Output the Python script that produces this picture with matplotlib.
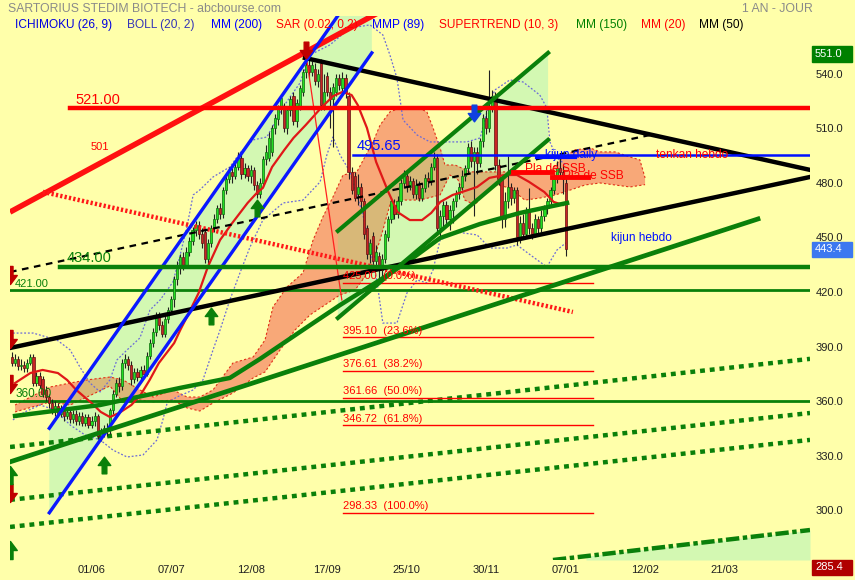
import numpy as np
import matplotlib
matplotlib.use('Agg')
import matplotlib.pyplot as plt
from matplotlib.path import Path
from matplotlib.transforms import blended_transform_factory
from matplotlib.patches import Rectangle

plt.rcParams['font.family'] = ['Liberation Sans', 'DejaVu Sans']

# ---------------- data ----------------
opens = [384,381,383,379,380,378,381,384,370,374,372,366,362,359,355,357,353,356,352,354,
         350,353,349,352,348,351,347,349,352,341,343,345,344,355,364,370,368,381,383,380,
         372,376,373,377,375,385,392,398,407,402,397,405,410,416,427,434,439,435,442,448,
         454,457,452,453,438,447,455,460,466,463,476,482,486,484,489,494,485,488,484,487,
         479,474,480,493,494,497,510,515,521,522,510,520,528,514,522,530,541,545,541,543,
         536,546,523,539,530,526,530,538,532,538,528,486,484,474,478,470,455,441,451,437,
         440,432,438,450,460,468,463,470,480,484,478,481,474,479,472,477,483,481,489,494,
         455,462,468,460,465,470,474,478,484,488,500,492,497,491,503,516,510,522,528,490,
         482,460,470,478,472,476,450,458,452,464,455,452,460,455,462,466,470,476,482,488,
         486,480]
closes = [381,383,379,380,378,381,384,370,374,369,364,362,359,355,357,353,356,352,354,350,
          353,349,352,348,351,347,349,352,341,343,345,344,355,364,370,368,381,383,380,372,
          376,373,377,375,385,392,398,407,402,397,405,410,416,427,434,439,435,442,448,454,
          457,452,447,438,447,455,460,466,463,476,482,486,484,489,494,485,488,484,487,479,
          474,480,493,497,505,510,516,521,527,510,520,526,514,524,532,541,545,541,545,536,
          540,523,530,530,526,533,538,534,538,530,486,476,472,478,470,452,441,447,437,442,
          432,438,452,460,470,463,470,480,484,478,481,474,479,472,477,483,481,489,494,455,
          462,468,460,465,470,474,478,484,488,500,492,497,491,503,516,510,522,528,490,482,
          460,470,478,472,476,450,458,452,464,455,452,460,455,462,466,470,476,482,488,486,
          482,443.4]
highs = [387,386,385,383,382,383,386,386,376,376,374,368,364,361,360,359,358,357,356,356,
         355,355,354,354,353,353,352,354,353,345,347,348,356,366,372,373,383,386,385,382,
         378,378,379,380,387,394,400,409,409,404,407,412,418,429,437,441,442,445,450,456,
         459,459,455,455,449,457,463,468,469,478,484,489,488,492,497,496,491,490,490,489,
         481,483,495,501,508,512,518,523,529,524,522,528,530,526,534,543,551,548,547,546,
         543,548,540,541,533,535,540,540,541,540,530,489,486,485,480,472,457,449,453,446,
         442,441,454,462,472,471,473,482,487,486,484,483,482,481,480,485,486,491,497,496,
         465,470,470,468,472,476,480,487,490,502,503,500,500,505,518,520,542,531,530,493,
         484,475,495,480,478,478,462,463,467,477,458,463,462,465,468,472,478,485,492,494,
         490,484]
lows = [379,379,377,377,376,376,380,368,368,367,362,360,356,353,352,351,351,349,350,348,
        348,347,347,346,346,345,345,346,339,338,340,341,342,353,362,365,366,378,377,369,
        370,371,371,373,374,383,390,396,399,395,395,403,408,412,424,430,432,433,440,446,
        451,449,444,436,435,445,453,458,460,461,474,480,480,482,487,482,483,481,480,476,
        472,472,478,490,492,495,507,512,518,508,507,517,512,511,520,528,538,538,539,534,
        533,520,520,528,510,500,528,531,530,527,482,474,470,468,465,449,438,436,434,432,
        425,426,436,448,458,460,461,468,477,475,476,472,471,470,470,475,478,479,487,452,
        450,455,457,454,458,467,471,476,481,485,489,462,485,489,500,507,508,519,487,479,
        455,456,466,468,469,446,447,449,450,452,449,450,452,453,459,463,468,474,480,483,
        474,440]

# x tick positions (trading-day index) and labels
xtick_idx = [26, 52, 78, 103, 129, 155, 181, 207, 233]
xtick_labels = ['01/06', '07/07', '12/08', '17/09', '25/10', '30/11', '07/01', '12/02', '21/03']
ytick_vals = [300, 330, 360, 390, 420, 450, 480, 510, 540]

# moving average 20 (red)
mm20_idx = [1,6,10,15,18,21,26,29,32,35,39,42,45,48,53,55,57,61,64,68,72,77,80,82,85,89,92,96,
            101,105,108,111,113,116,119,123,126,130,134,137,140,144,147,152,156,161,165,169,174,177,180]
mm20_val = [369.9,375.4,377.1,375.4,371.6,366.1,358.9,354.0,351.2,353.4,357.8,363.3,371.6,380.9,
            391.9,399.1,405.7,419.5,433.8,448.6,458.0,469.0,474.5,477.3,488.8,498.2,504.8,511.9,
            521.3,527.9,530.1,528.4,522.9,510.3,491.6,475.0,464.0,459.6,459.6,463.5,469.6,473.4,
            475.0,477.8,482.8,484.4,484.4,480.6,475.0,469.6,467.9]

# moving average 150 (green)
mm150_idx = [1.0, 28.8, 54.9, 71.2, 81.0, 94.1, 107.2, 120.3, 130.1, 139.9, 152.9, 166.0, 181.4]
mm150_val = [351.8, 357.8, 367.2, 372.7, 383.1, 398.0, 412.8, 426.6, 437.6, 449.7, 457.4, 463.5, 469.0]

# Bollinger bands
boll_up_idx = [0.3,6.9,14.7,19.0,22.2,25.5,28.8,32.0,34.3,37.6,41.8,45.1,48.4,52.6,54.9,57.2,59.2,
               61.4,65.7,71.2,74.5,78.8,83.3,88.6,94.1,97.4,103.9,110.5,117.0,121.2,123.5,125.8,
               127.8,132.4,136.6,142.2,148.7,153.0,155.2,157.8,162.7,167.0,172.5,174.8,175.8,178.1,181.0]
boll_up_val = [397.4,397.4,393.6,388.1,378.7,369.9,365.0,371.6,382.6,388.1,394.7,410.1,415.6,425.5,
               440.0,456.0,473.4,476.2,483.3,488.8,496.5,503.7,505.3,521.8,535.0,550.5,556.0,565.3,
               567.0,561.5,550.5,537.8,514.7,506.4,502.6,502.6,502.6,504.8,519.1,531.2,536.7,535.6,
               528.4,521.3,502.6,493.8,489.9]
boll_lo_idx = [0.3,4.2,9.2,14.1,19.0,23.9,28.8,33.0,37.6,42.8,47.4,49.3,50.7,53.9,59.2,62.4,65.7,68.0,
               71.2,74.5,77.8,82.0,88.6,95.1,100.7,102.9,104.9,107.2,110.5,112.7,114.7,117.0,119.3,
               121.2,125.8,129.1,132.4,135.6,137.6,139.9,145.4,152.0,156.2,161.8,165.0,170.3,174.8,178.1,181.0]
boll_lo_val = [349.6,354.0,357.8,355.1,346.8,341.3,338.6,333.0,329.2,330.3,338.6,349.6,358.9,362.2,
               366.1,371.6,388.1,399.1,415.6,430.5,444.8,459.6,469.0,470.6,480.6,495.4,505.3,495.4,
               486.1,473.4,462.4,444.2,425.5,402.9,402.9,419.5,426.6,425.0,432.1,448.6,453.0,451.4,
               444.2,444.2,445.9,439.3,433.8,443.1,447.0]

# Ichimoku cloud (upper and lower edges)
cloud_top_idx = [1.0,12.4,19.0,24.5,32.0,36.3,41.8,46.1,52.6,57.2,61.4,65.7,72.2,78.8,82.7,85.3,89.9,
                 95.1,98.4,101.6,104.9,108.2,112.7,118.0,120.3,123.5,126.8,132.4,135.6,137.6,139.9,
                 141.5,144.8,149.7,156.2,162.7,169.3,175.8,179.1,184.0,188.9,192.2,197.1,202.0,205.2,206.9]
cloud_top_val = [357.8,367.7,369.9,371.6,373.2,371.6,366.1,362.2,366.1,362.2,362.2,366.1,380.9,384.2,
                 393.6,411.8,422.8,430.5,448.6,461.3,472.3,484.4,486.1,502.6,511.9,519.1,521.3,521.8,
                 519.1,510.3,499.3,489.9,489.9,486.1,486.1,486.1,486.1,486.1,492.7,498.2,499.3,497.1,
                 497.1,494.3,492.7,482.8]
cloud_bot_idx = [1.0,12.4,19.0,24.5,32.0,36.3,41.8,46.1,52.6,57.2,61.4,65.7,72.2,78.8,82.7,87.6,92.5,
                 97.4,102.3,107.2,112.1,117.0,120.3,123.5,126.8,133.3,139.9,143.1,145.8,148.0,151.3,
                 154.6,158.5,162.7,167.6,172.5,177.5,182.4,187.3,192.2,197.1,202.0,206.9]
cloud_bot_val = [354.0,359.5,357.8,362.2,368.3,359.5,360.6,359.5,360.6,356.2,354.5,358.9,364.4,372.7,
                 376.0,388.1,399.1,407.4,412.9,418.4,421.1,432.1,448.6,467.9,470.6,470.6,473.4,484.4,
                 481.7,470.6,467.9,475.0,478.9,477.3,470.6,471.7,473.4,476.1,478.9,480.0,478.9,477.8,479.1]

# trend lines / channels (index, price)
blue_ch_idx = [12.2, 117.6]
blue_ch_upper = [345.0, 598.8]
blue_ch_lower = [298.5, 551.6]
green_ch_idx = [106.5, 175.2]
green_ch_upper = [453.6, 551.6]
green_ch_lower = [405.7, 503.7]
red_trend_idx, red_trend_val = [-0.65, 120.0], [464.0, 574.0]
red_dot_idx, red_dot_val = [10.1, 183.3], [475.1, 409.0]
black_low_idx, black_low_val = [-0.65, 260.8], [389.2, 483.3]
black_up_idx, black_up_val = [95.75, 260.8], [548.8, 487.2]
black_dash_idx, black_dash_val = [-0.65, 208.5], [431.0, 506.4]
green_long_idx, green_long_val = [-0.65, 243.8], [326.5, 460.2]
green_dot_idx = [-0.65, 260.8]
green_dot1_val = [334.7, 383.2]
green_dot2_val = [305.6, 353.4]
green_dot3_val = [290.7, 338.6]
green_dd_idx, green_dd_val = [176.8, 260.8], [272.5, 289.0]
green_dd_fill_idx, green_dd_fill_val = [187.6, 260.8], [274.6, 289.0]
sar_line_idx, sar_line_val = [96.1, 107.8], [550.5, 415.6]

# horizontal levels
lvl_521 = (521.0, 19.0)      # value, start index
lvl_495 = (495.65, 111.4)
lvl_434 = (434.0, 15.7)
lvl_421 = 421.0
lvl_360 = 360.0
fib_vals = [425.00, 395.10, 376.61, 361.66, 346.72, 298.33]
fib_pcts = ['0.0%', '23.6%', '38.2%', '50.0%', '61.8%', '100.0%']
fib_range = (108.2, 189.9)
kijun_daily = (494.5, 171.6, 184.0)
ssb_flat1 = (486.1, 163.7, 176.5)
ssb_flat2 = (483.3, 176.5, 188.3)

# signal arrows
sar_down_idx, sar_down_val = [96], [553.0]
blue_down_idx, blue_down_val = [151], [518.5]
green_up_idx, green_up_val = [30, 65, 80], [325.0, 407.0, 466.0]
edge_red_val = [429.4, 394.2, 369.4, 309.4]
edge_green_val = [319.3, 278.0]

last_close = 443.4
period_high = 551.0
low_label = 285.4

XMIN, XMAX = -0.65, 260.8
YMIN, YMAX = 272.5, 571.9

# ---------------- figure ----------------
BG = '#ffffaa'
LG = '#d3f8b2'
fig = plt.figure(figsize=(8.55, 5.8), dpi=100, facecolor=BG)
ax = fig.add_axes([10/855, 20/580, 800/855, 544/580], facecolor=BG)
ax.set_xlim(XMIN, XMAX)
ax.set_ylim(YMIN, YMAX)
for s in ax.spines.values():
    s.set_visible(False)

# channel fills
bx = [blue_ch_idx[0], blue_ch_idx[1], blue_ch_idx[1], blue_ch_idx[0]]
by = [blue_ch_lower[0], blue_ch_lower[1], blue_ch_upper[1], blue_ch_upper[0]]
blue_fill = ax.fill(bx, by, color=LG, lw=0, zorder=1)[0]
gx = [green_ch_idx[0], green_ch_idx[1], green_ch_idx[1], green_ch_idx[0]]
gy = [green_ch_lower[0], green_ch_lower[1], green_ch_upper[1], green_ch_upper[0]]
green_fill = ax.fill(gx, gy, color=LG, lw=0, zorder=1)[0]
ax.fill_between(green_dd_fill_idx, green_dd_fill_val, YMIN, color=LG, lw=0, zorder=1)

# ichimoku cloud
cx = list(cloud_top_idx) + list(cloud_bot_idx[::-1])
cy = list(cloud_top_val) + list(cloud_bot_val[::-1])
ax.fill(cx, cy, color='#f8a878', lw=0, zorder=1.5)
for clip in (blue_fill, green_fill):
    t = ax.fill(cx, cy, color='#d8b878', lw=0, zorder=1.6)[0]
    t.set_clip_path(clip)
ax.plot(cloud_top_idx, cloud_top_val, color='#e03018', lw=0.8, ls=(0, (2, 2)), zorder=1.7)
ax.plot(cloud_bot_idx, cloud_bot_val, color='#e03018', lw=0.8, ls=(0, (2, 2)), zorder=1.7)

# bollinger
ax.plot(boll_up_idx, boll_up_val, color='#6a6ad8', lw=0.9, ls=(0, (1.5, 1.5)), zorder=2)
ax.plot(boll_lo_idx, boll_lo_val, color='#6a6ad8', lw=0.9, ls=(0, (1.5, 1.5)), zorder=2)

# dotted green lines
for v in (green_dot1_val, green_dot2_val, green_dot3_val):
    ax.plot(green_dot_idx, v, color='#0a800a', lw=3.2, ls=(0, (1.1, 1.1)), zorder=2.2)
ax.plot(green_dd_idx, green_dd_val, color='#0a800a', lw=3.2, ls=(0, (3, 0.8, 1, 0.8)), zorder=2.2)

# horizontal levels
ax.plot([lvl_421[0] if False else XMIN, XMAX], [lvl_421, lvl_421], color='#0a800a', lw=2, zorder=2.3)
ax.plot([XMIN, XMAX], [lvl_360, lvl_360], color='#0a800a', lw=2, zorder=2.3)
for fv in fib_vals:
    ax.plot(fib_range, [fv, fv], color='#ff0000', lw=1, zorder=2.3)

# candles
o = np.array(opens, float); c = np.array(closes, float)
h = np.array(highs, float); l = np.array(lows, float)
idx = np.arange(len(c))
up = c >= o
ax.vlines(idx, l, h, color='#202020', lw=0.8, zorder=3)
ax.bar(idx[up], (c - o)[up], bottom=o[up], width=0.72, color='#22dd22', edgecolor='#0c6a0c', lw=0.5, zorder=3.1)
ax.bar(idx[~up], (o - c)[~up], bottom=c[~up], width=0.72, color='#c82424', edgecolor='#601010', lw=0.5, zorder=3.1)

# moving averages
ax.plot(mm20_idx, mm20_val, color='#e01818', lw=1.6, zorder=3.5)
ax.plot(mm150_idx, mm150_val, color='#0a800a', lw=3.2, zorder=3.5)
ax.plot(sar_line_idx, sar_line_val, color='#ff2020', lw=0.9, zorder=3.5)

# trend lines
ax.plot(red_trend_idx, red_trend_val, color='#ff1010', lw=4, zorder=4, solid_capstyle='butt')
ax.plot(red_dot_idx, red_dot_val, color='#ff1818', lw=3.2, ls=(0, (0.5, 0.5)), zorder=4)
ax.plot(black_low_idx, black_low_val, color='#000000', lw=3.2, zorder=4)
ax.plot(black_up_idx, black_up_val, color='#000000', lw=3.2, zorder=4)
ax.plot(black_dash_idx, black_dash_val, color='#000000', lw=1.6, ls=(0, (3, 2.5)), zorder=4)
ax.plot(blue_ch_idx, blue_ch_upper, color='#0a18ff', lw=2.4, zorder=4)
ax.plot(blue_ch_idx, blue_ch_lower, color='#0a18ff', lw=2.4, zorder=4)
ax.plot(green_ch_idx, green_ch_upper, color='#0a800a', lw=3.0, zorder=4)
ax.plot(green_ch_idx, green_ch_lower, color='#0a800a', lw=3.0, zorder=4)
ax.plot(green_long_idx, green_long_val, color='#0a800a', lw=3.4, zorder=4)
ax.plot([lvl_521[1], XMAX], [lvl_521[0]] * 2, color='#ff0000', lw=3.2, zorder=4)
ax.plot([lvl_495[1], XMAX], [lvl_495[0]] * 2, color='#0010ff', lw=1.8, zorder=4)
ax.plot([lvl_434[1], XMAX], [lvl_434[0]] * 2, color='#0a800a', lw=3.2, zorder=4)
ax.plot(kijun_daily[1:], [kijun_daily[0]] * 2, color='#0010ff', lw=3, zorder=4)
ax.plot(ssb_flat1[1:], [ssb_flat1[0]] * 2, color='#ff0000', lw=3.5, zorder=4)
ax.plot(ssb_flat2[1:], [ssb_flat2[0]] * 2, color='#ff0000', lw=3.5, zorder=4)

# arrows
up_path = Path([(-0.28, -1), (0.28, -1), (0.28, 0), (0.75, 0), (0, 1), (-0.75, 0), (-0.28, 0), (-0.28, -1)],
               [Path.MOVETO] + [Path.LINETO] * 6 + [Path.CLOSEPOLY])
down_path = Path([(x, -y) for x, y in up_path.vertices], up_path.codes)
ax.plot(green_up_idx, green_up_val, ls='none', marker=up_path, ms=12, color='#0a800a', zorder=5)
ax.plot(sar_down_idx, sar_down_val, ls='none', marker=down_path, ms=12, color='#c00000', zorder=5)
ax.plot(blue_down_idx, blue_down_val, ls='none', marker=down_path, ms=12, color='#1040e0', zorder=5)
ax.plot([XMIN] * len(edge_red_val), edge_red_val, ls='none', marker=down_path, ms=13, color='#c00000', zorder=5)
ax.plot([XMIN] * len(edge_green_val), edge_green_val, ls='none', marker=up_path, ms=13, color='#0a800a', zorder=5)

# texts on chart
ax.text(20.6, 521.8, '521.00', color='#ff0000', fontsize=10.5, va='bottom', zorder=6)
ax.text(112.7, 496.4, '495.65', color='#0010ff', fontsize=10.5, va='bottom', zorder=6)
ax.text(18.0, 434.8, '434.00', color='#0a800a', fontsize=10.5, va='bottom', zorder=6)
ax.text(1.0, 421.8, '421.00', color='#0a800a', fontsize=8, va='bottom', zorder=6)
ax.text(1.0, 360.8, '360.00', color='#0a800a', fontsize=8.5, va='bottom', zorder=6)
ax.text(28.8, 499.8, '501', color='#ff0000', fontsize=8, va='center', ha='center', zorder=6)
ax.text(210.5, 495.4, 'tenkan hebdo', color='#ff0000', fontsize=8.6, va='center', zorder=6)
ax.text(195.8, 449.7, 'kijun hebdo', color='#0010ff', fontsize=8.6, va='center', zorder=6)
ax.text(174.2, 495.2, 'kijun daily', color='#0010ff', fontsize=8.6, va='center', zorder=6)
ax.text(167.6, 487.9, 'Pla de SSB', color='#ff0000', fontsize=8.6, va='center', zorder=6)
ax.text(180.1, 484.0, 'Pla de SSB', color='#ff0000', fontsize=8.6, va='center', zorder=6)
for fv, fp in zip(fib_vals, fib_pcts):
    ax.text(fib_range[0], fv + 0.9, f'{fv:.2f}  ({fp})', color='#ff0000', fontsize=8, va='bottom', zorder=6)

# axes ticks
ax.set_xticks(xtick_idx)
ax.set_xticklabels(xtick_labels)
ax.yaxis.tick_right()
ax.set_yticks(ytick_vals)
ax.set_yticklabels([f'{v:.1f}' for v in ytick_vals])
ax.tick_params(axis='both', length=0, labelsize=8, labelcolor='#202020')
ax.tick_params(axis='y', pad=4)
ax.tick_params(axis='x', pad=3.5)

# value boxes on the right
trans = blended_transform_factory(ax.transAxes, ax.transData)
for val, col, txt in [(period_high, '#008000', f'{period_high:.1f}'), (last_close, '#3c78f0', f'{last_close:.1f}')]:
    ax.add_patch(Rectangle((1.0025, val - 4.2), 0.05, 8.4, transform=trans, color=col, clip_on=False, zorder=7))
    ax.text(1.006, val, txt, transform=trans, color='white', fontsize=8, va='center', ha='left', clip_on=False, zorder=8)
fig.add_artist(Rectangle((812/855, 1 - 575/580), 40/855, 15/580, transform=fig.transFigure, color='#b00000'))
fig.text(815/855, 1 - 567.5/580, f'{low_label:.1f}', color='white', fontsize=8, va='center', ha='left')

# header
fig.text(8/855, 1 - 9/580, 'SARTORIUS STEDIM BIOTECH - abcbourse.com', color='#8a8a8a', fontsize=8.8, va='center')
fig.text(742/855, 1 - 9/580, '1 AN - JOUR', color='#8a8a8a', fontsize=8.8, va='center')
legend_items = [('ICHIMOKU (26, 9)', '#0000e0', 15), ('BOLL (20, 2)', '#3434b8', 127), ('MM (200)', '#0000ff', 211),
                ('SAR (0.02, 0.2)', '#ff0000', 276), ('MMP (89)', '#0000ff', 372), ('SUPERTREND (10, 3)', '#ff0000', 439),
                ('MM (150)', '#008000', 576), ('MM (20)', '#ff0000', 641), ('MM (50)', '#000000', 699)]
for name, col, xp in legend_items:
    fig.text(xp/855, 1 - 25/580, name, color=col, fontsize=8.6, va='center', zorder=10)

fig.savefig('out.png', dpi=100, facecolor=BG)
